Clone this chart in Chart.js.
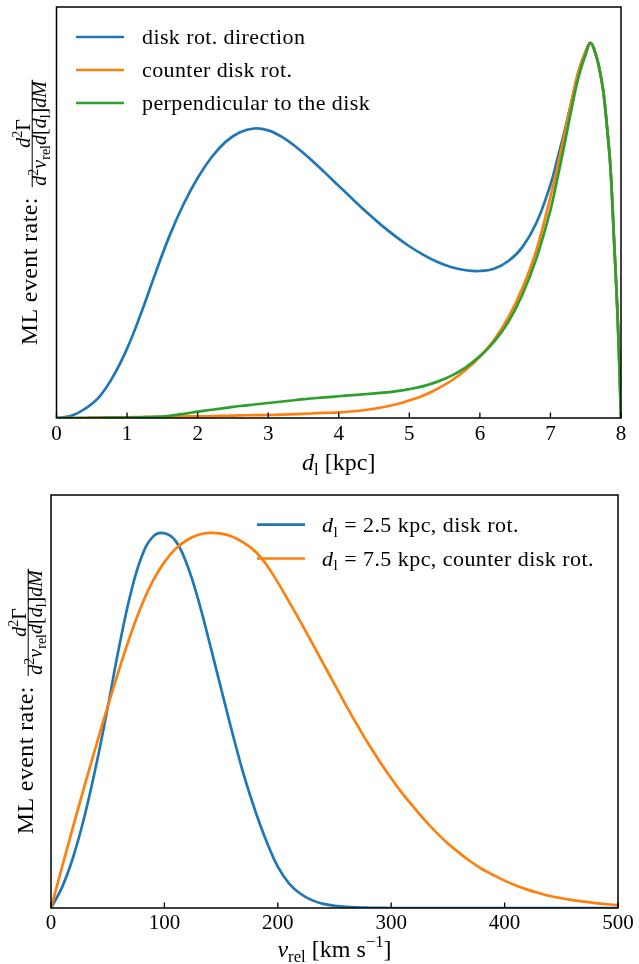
<!DOCTYPE html>
<html><head><meta charset="utf-8">
<script src="https://cdn.jsdelivr.net/npm/chart.js@4.4.1/dist/chart.umd.min.js"></script>
<style>
html,body{margin:0;padding:0;background:#fff;}
#wrap{position:relative;width:639px;height:964px;overflow:hidden;}
#c1{position:absolute;left:0;top:0;}
#c2{position:absolute;left:0;top:480px;}
</style></head><body>
<div id="wrap">
<canvas id="c1" width="639" height="480"></canvas>
<canvas id="c2" width="639" height="484"></canvas>
</div>
<script>
// ---------- data: top panel (lens distance d_l in kpc) ----------
const dl = [0,0.2,0.4,0.6,0.8,1.0,1.2,1.4,1.6,1.8,2.0,2.2,2.4,2.6,2.8,3.0,3.2,3.4,3.6,3.8,4.0,4.2,4.4,4.6,4.8,5.0,5.2,5.4,5.6,5.8,6.0,6.2,6.4,6.6,6.8,7.0,7.1,7.2,7.3,7.4,7.5,7.57,7.65,7.7,7.75,7.8,7.85,7.9,7.95,7.98,8.0];
const diskRot = [0,0.005,0.024,0.055,0.11,0.185,0.28,0.385,0.485,0.57,0.64,0.696,0.737,0.762,0.772,0.767,0.749,0.722,0.69,0.655,0.619,0.583,0.548,0.515,0.485,0.458,0.435,0.416,0.402,0.394,0.392,0.398,0.418,0.455,0.52,0.622,0.692,0.765,0.845,0.925,0.978,1.0,0.965,0.925,0.87,0.78,0.67,0.48,0.28,0.12,0];
const counterRot = [0,0,0.0005,0.001,0.0015,0.002,0.0025,0.003,0.0035,0.004,0.0045,0.005,0.006,0.007,0.0075,0.008,0.009,0.0105,0.012,0.0135,0.015,0.018,0.022,0.028,0.036,0.047,0.06,0.078,0.1,0.128,0.163,0.208,0.267,0.345,0.447,0.59,0.67,0.757,0.845,0.925,0.978,1.0,0.965,0.925,0.87,0.78,0.67,0.48,0.28,0.12,0];
const perpRot = [0,0,0,0.0005,0.001,0.001,0.002,0.003,0.006,0.011,0.017,0.022,0.027,0.032,0.036,0.04,0.044,0.048,0.052,0.055,0.058,0.061,0.064,0.067,0.071,0.077,0.085,0.097,0.113,0.135,0.165,0.203,0.255,0.328,0.425,0.555,0.64,0.73,0.825,0.91,0.97,1.0,0.965,0.925,0.87,0.78,0.67,0.48,0.28,0.12,0];
const topLabels = ['disk rot. direction','counter disk rot.','perpendicular to the disk'];
const topTicks = [0,1,2,3,4,5,6,7,8];

// ---------- data: bottom panel (relative velocity in km/s) ----------
const vrel = [0,10,20,30,40,50,60,70,80,90,100,110,120,130,140,150,160,170,180,190,200,210,220,230,240,250,260,270,280,290,300,310,320,330,340,350,360,370,380,390,400,410,420,430,440,450,460,470,480,490,500];
const near25 = [0,0.057,0.14,0.25,0.383,0.535,0.695,0.835,0.937,0.99,0.999,0.978,0.915,0.82,0.705,0.585,0.466,0.355,0.26,0.178,0.11,0.065,0.038,0.021,0.011,0.006,0.003,0.0015,0.0007,0.0003,0,0,0,0,0,0,0,0,0,0,0,0,0,0,0,0,0,0,0,0,0];
const far75 = [0,0.112,0.222,0.33,0.435,0.537,0.635,0.727,0.808,0.873,0.922,0.958,0.981,0.995,1.0,0.998,0.99,0.974,0.951,0.915,0.868,0.816,0.763,0.708,0.652,0.597,0.541,0.488,0.437,0.39,0.346,0.305,0.268,0.233,0.201,0.172,0.147,0.124,0.104,0.088,0.073,0.06,0.049,0.04,0.032,0.026,0.021,0.017,0.013,0.01,0.008];
const bottomLabels = ['*d*_{l} = 2.5 kpc, disk rot.','*d*_{l} = 7.5 kpc, counter disk rot.'];
const bottomTicks = [0,100,200,300,400,500];

const FONT = "'Liberation Serif', 'Times New Roman', serif";
const C_BLUE = '#1f77b4', C_ORANGE = '#ff7f0e', C_GREEN = '#2ca02c';

function parseRich(str){
  const segs=[]; let it=false, i=0, buf='';
  const push=()=>{ if(buf) segs.push({t:buf,it,mode:'n'}); buf=''; };
  while(i<str.length){
    const c=str[i];
    if(c==='*'){ push(); it=!it; i++; continue; }
    if((c==='_'||c==='^') && str[i+1]==='{'){
      push();
      const j=str.indexOf('}',i);
      segs.push({t:str.slice(i+2,j),it:false,mode:c==='_'?'sub':'sup'});
      i=j+1; continue;
    }
    buf+=c; i++;
  }
  push();
  return segs;
}
const plain = s => parseRich(s).map(g=>g.t).join('');
function fontFor(seg,size){ const s = seg.mode==='n'?size:size*0.7; return (seg.it?'italic ':'')+s.toFixed(2)+'px '+FONT; }
function richWidth(ctx,segs,size,ls){ let w=0; for(const s of segs){ ctx.font=fontFor(s,size); ctx.letterSpacing=ls+'px'; w+=ctx.measureText(s.t).width; } return w; }
function drawRich(ctx,segs,x,y,size,ls){
  for(const s of segs){
    ctx.font=fontFor(s,size); ctx.letterSpacing=ls+'px';
    const dy = s.mode==='sub'? size*0.22 : s.mode==='sup'? -size*0.4 : 0;
    ctx.fillText(s.t,x,y+dy);
    x += ctx.measureText(s.t).width;
  }
  return x;
}
const NUM='*d*^{2}Γ';
const DEN='*d*^{2}*v*_{rel}*d*[*d*_{l}]*dM*';

const decor = {
  id:'decor',
  afterDatasetsDraw(chart,args,o){
    const ctx=chart.ctx, a=chart.chartArea, xs=chart.scales.x;
    ctx.save();
    ctx.fillStyle='#000'; ctx.strokeStyle='#000';
    ctx.lineWidth=1.5;
    ctx.strokeRect(a.left,a.top,a.right-a.left,a.bottom-a.top);
    ctx.lineWidth=1.3;
    for(const t of xs.ticks){
      const px=xs.getPixelForValue(t.value);
      ctx.beginPath(); ctx.moveTo(px,a.bottom); ctx.lineTo(px,a.bottom-5.5); ctx.stroke();
    }
    // legend
    const L=o.legend;
    ctx.textBaseline='alphabetic'; ctx.textAlign='left';
    chart.data.datasets.forEach((d,i)=>{
      const y=L.ys[i];
      ctx.strokeStyle=d.borderColor; ctx.lineWidth=2.7;
      ctx.beginPath(); ctx.moveTo(L.x1,y); ctx.lineTo(L.x2,y); ctx.stroke();
      ctx.fillStyle='#000';
      drawRich(ctx,parseRich(d.richLabel),L.textX,y+7,L.size,L.ls);
    });
    // x title
    const xt=o.xTitle;
    const segs=parseRich(xt.text);
    const w=richWidth(ctx,segs,xt.size,0);
    drawRich(ctx,segs,(a.left+a.right)/2-w/2,xt.y,xt.size,0);
    // y label
    const yl=o.yLabel;
    const cy=(a.top+a.bottom)/2;
    ctx.translate(yl.x,cy); ctx.rotate(-Math.PI/2);
    const t1=parseRich('ML event rate:'), num=parseRich(NUM), den=parseRich(DEN);
    const w1=richWidth(ctx,t1,yl.size,0.4);
    const wn=richWidth(ctx,num,yl.fsize,0), wd=richWidth(ctx,den,yl.fsize,0);
    const wf=Math.max(wn,wd)+3, gap=10, W=w1+gap+wf;
    const x0=-W/2;
    drawRich(ctx,t1,x0,0,yl.size,0.4);
    const fx=x0+w1+gap;
    ctx.fillRect(fx,-4.8,wf,1.0);
    drawRich(ctx,num,fx+(wf-wn)/2,-7,yl.fsize,0);
    drawRich(ctx,den,fx+(wf-wd)/2,9.5,yl.fsize,0);
    ctx.restore();
  }
};

function ds(label,xs,ys,color,order){
  return {label:plain(label),richLabel:label,data:xs.map((x,i)=>({x,y:ys[i]})),borderColor:color,backgroundColor:color,
    borderWidth:2.7,pointRadius:0,fill:false,tension:0.4,order};
}
function makeChart(id,cfg){
  return new Chart(document.getElementById(id),{
    type:'line',
    data:{datasets:cfg.datasets},
    options:{
      responsive:false,animation:false,events:[],
      layout:{padding:cfg.padding},
      plugins:{legend:{display:false},tooltip:{enabled:false},decor:cfg.decor},
      scales:{
        x:{type:'linear',min:cfg.xmin,max:cfg.xmax,
          afterBuildTicks:s=>{ s.ticks=cfg.ticks.map(v=>({value:v})); },
          afterFit:s=>{ s.height=cfg.xh; },
          ticks:{autoSkip:false,maxRotation:0,padding:cfg.tickPad,color:'#000',font:{family:FONT,size:21},callback:v=>String(v)},
          grid:{display:false,drawTicks:false},border:{display:false}},
        y:{display:false,min:0,max:cfg.ymax}
      }
    },
    plugins:[decor]
  });
}

makeChart('c1',{
  datasets:[ds(topLabels[0],dl,diskRot,C_BLUE,3),ds(topLabels[1],dl,counterRot,C_ORANGE,2),ds(topLabels[2],dl,perpRot,C_GREEN,1)],
  padding:{left:56.5,right:18,top:7,bottom:0},xh:62,tickPad:4,xmin:0,xmax:8,ticks:topTicks,ymax:1.096,
  decor:{legend:{x1:76,x2:124,textX:142,ys:[37,70,103],size:22,ls:0.4},
         xTitle:{text:'*d*_{l} [kpc]',y:470,size:24},
         yLabel:{x:36.5,size:24,fsize:20}}
});
makeChart('c2',{
  datasets:[ds(bottomLabels[0],vrel,near25,C_BLUE,2),ds(bottomLabels[1],vrel,far75,C_ORANGE,1)],
  padding:{left:51,right:21,top:15,bottom:0},xh:56,tickPad:3,xmin:0,xmax:500,ticks:bottomTicks,ymax:1.101,
  decor:{legend:{x1:257,x2:305,textX:322,ys:[44.7,78.5],size:22,ls:0.45},
         xTitle:{text:'*v*_{rel} [km s^{−1}]',y:477,size:24},
         yLabel:{x:32.5,size:24,fsize:20}}
});
</script>
</body></html>
